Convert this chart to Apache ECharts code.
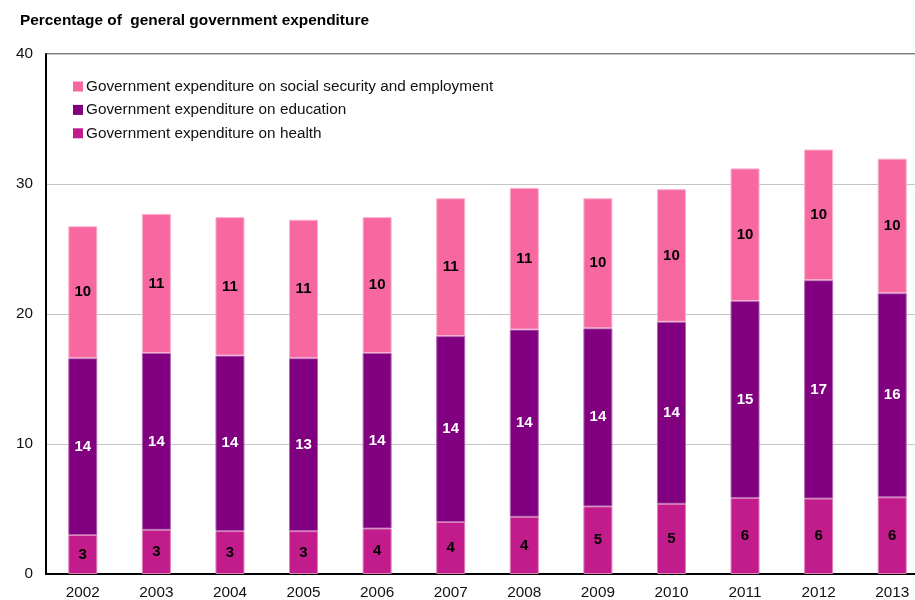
<!DOCTYPE html>
<html>
<head>
<meta charset="utf-8">
<script src="https://cdn.jsdelivr.net/npm/echarts@6/dist/echarts.min.js"></script>
<style>html,body{margin:0;padding:0;background:#fff;overflow:hidden;width:915px;height:600px}#c{width:929px;height:600px}</style>
</head>
<body>
<div id="c"></div>
<script>
const years = ['2002','2003','2004','2005','2006','2007','2008','2009','2010','2011','2012','2013'];
const health = [3.0,3.4,3.3,3.3,3.5,4.0,4.4,5.2,5.4,5.85,5.8,5.9];
const education = [13.6,13.6,13.5,13.3,13.5,14.3,14.4,13.7,14.0,15.15,16.8,15.7];
const socialSecurity = [10.15,10.7,10.65,10.65,10.45,10.6,10.9,10.0,10.2,10.2,10.05,10.35];
const seriesNames = ['Government expenditure on social security and employment','Government expenditure on education','Government expenditure on health'];
const yTicks = [0,10,20,30,40];

const font = '"Liberation Sans", Arial, sans-serif';
const chart = echarts.init(document.getElementById('c'), null, {renderer:'canvas'});
function lbl(color){
  return {show:true, position:'inside', color:color, fontFamily:font, fontWeight:'bold', fontSize:15,
    formatter: p => Math.round(p.value)};
}
chart.setOption({
  animation:false,
  title:{text:'Percentage of  general government expenditure', left:15, top:8,
    textStyle:{fontFamily:font, fontWeight:'bold', fontSize:15.4, color:'#000'}},
  legend:{orient:'vertical', left:68, top:74, itemWidth:10, itemHeight:10, itemGap:8.4,
    icon:'rect', data:seriesNames,
    itemStyle:{borderWidth:0},
    textStyle:{fontFamily:font, fontSize:15.3, color:'#111', padding:[0,0,0,-2]}},
  grid:{left:46, right:0, top:54, bottom:25, containLabel:false, show:true, borderColor:'#000', borderWidth:1},
  xAxis:{type:'category', data:years,
    axisLine:{show:true, lineStyle:{color:'#000', width:2}},
    axisTick:{show:false},
    axisLabel:{fontFamily:font, fontSize:15.3, color:'#111', margin:11}},
  yAxis:{type:'value', min:yTicks[0], max:yTicks[yTicks.length-1], interval:10,
    axisLine:{show:true, lineStyle:{color:'#000', width:2}},
    axisTick:{show:false},
    splitLine:{show:true, lineStyle:{color:'#c4c4c4', width:1}},
    axisLabel:{fontFamily:font, fontSize:15.3, color:'#111', margin:13}},
  series:[
    {name:seriesNames[2], type:'bar', stack:'t', barWidth:29, data:health,
      itemStyle:{color:'#C21B8B', borderColor:'#e07fb9', borderWidth:1}, label:lbl('#000')},
    {name:seriesNames[1], type:'bar', stack:'t', barWidth:29, data:education,
      itemStyle:{color:'#800080', borderColor:'#b466b4', borderWidth:1}, label:lbl('#fff')},
    {name:seriesNames[0], type:'bar', stack:'t', barWidth:29, data:socialSecurity,
      itemStyle:{color:'#F768A1', borderColor:'#fbb0cf', borderWidth:1}, label:lbl('#000')}
  ]
});
</script>
</body>
</html>
